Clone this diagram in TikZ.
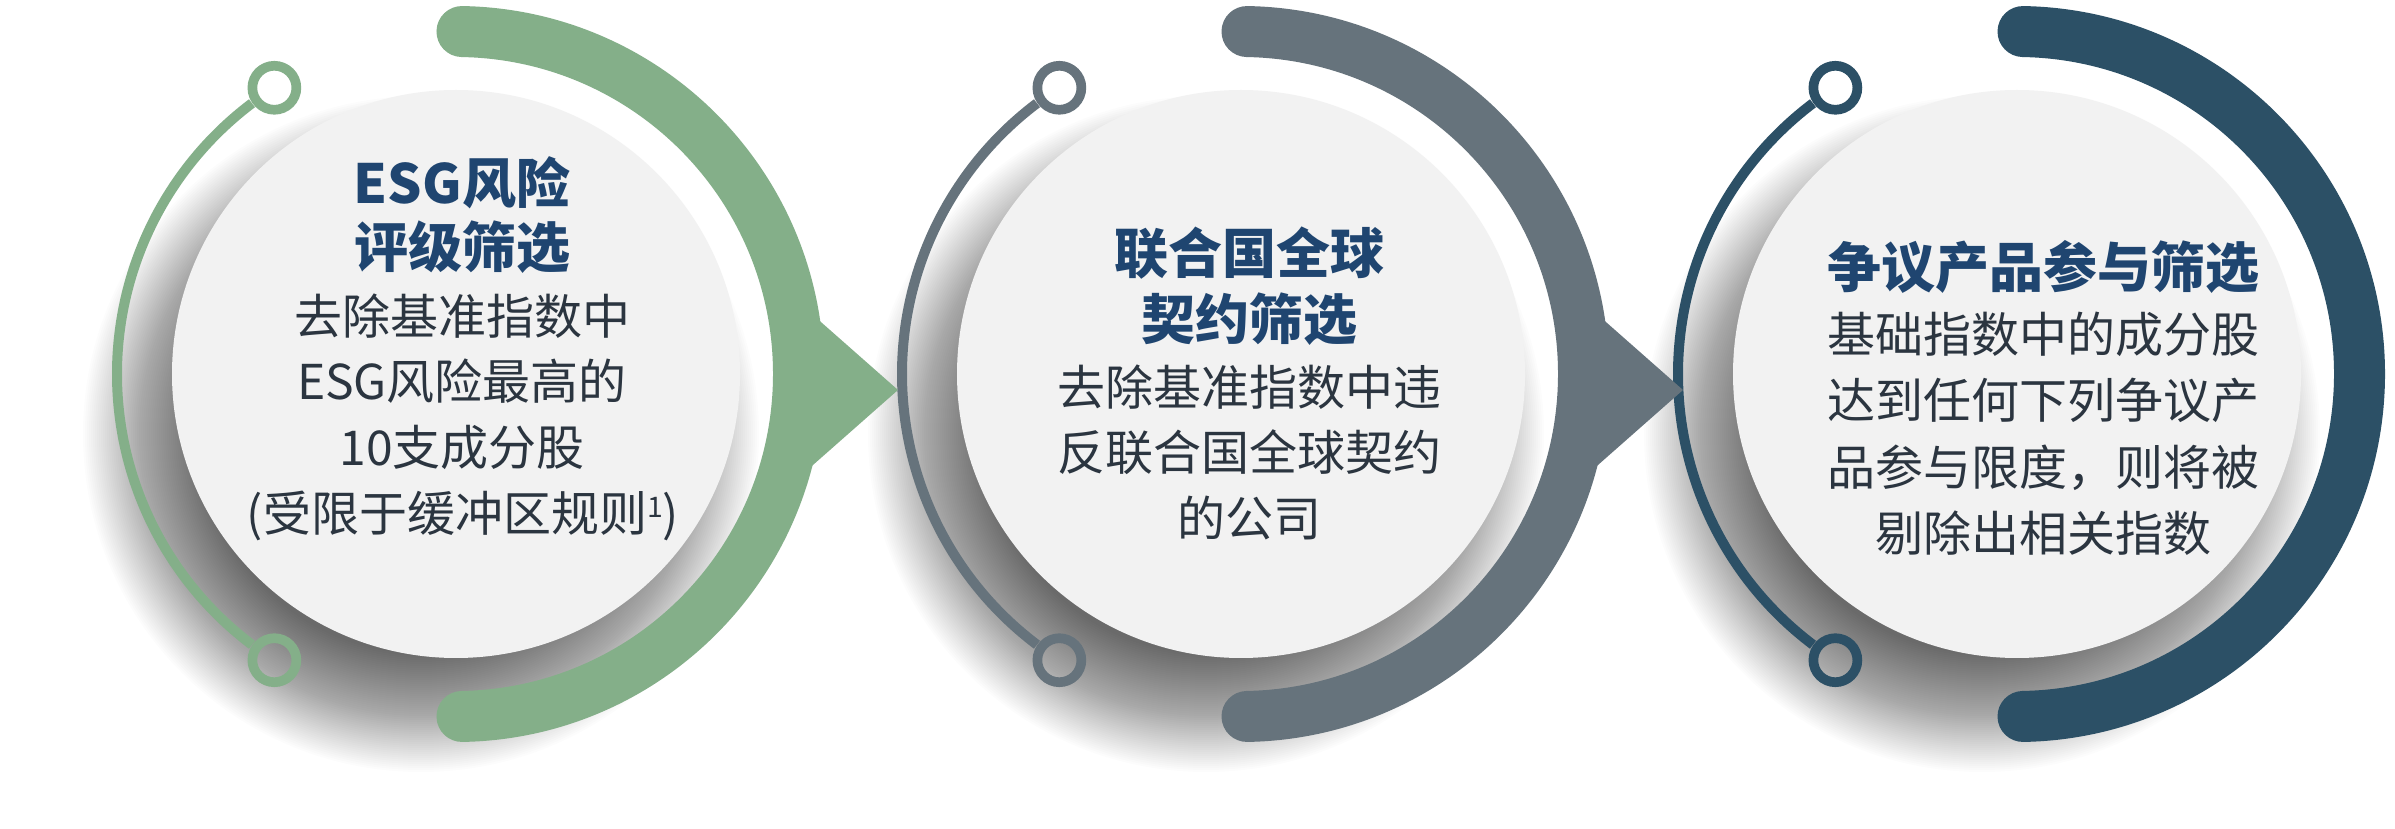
\documentclass[tikz,border=0pt]{standalone}
\usepackage{fontspec}
\newfontfamily\cjk{Noto Sans CJK SC}
\definecolor{cgreen}{HTML}{84AF89}
\definecolor{cslate}{HTML}{66737C}
\definecolor{cnavy}{HTML}{2C5066}
\definecolor{ctitle}{HTML}{1F4570}
\definecolor{cbody}{HTML}{2B3540}
\definecolor{cdisk}{HTML}{F2F2F2}
\tikzset{
  titletext/.style={font=\cjk\bfseries\fontsize{16.2pt}{19pt}\selectfont, text=ctitle, anchor=base, inner sep=0pt},
  bodytext/.style={font=\cjk\fontsize{14.4pt}{19pt}\selectfont, text=cbody, anchor=base, inner sep=0pt},
  thinarc/.style={line width=3pt},
  ringend/.style={line width=2.9pt},
  thickarc/.style={line width=15.3pt, line cap=round},
  diskshape/.style={circle, fill=cdisk, minimum size=170.4pt, inner sep=0pt},
  shadowlayer/.style={fill=black, fill opacity=0.01}
}
\newcommand{\supone}{\raisebox{0.55ex}{\fontsize{8.5pt}{8.5pt}\selectfont 1}}
\begin{document}
\begin{tikzpicture}[x=0.3pt,y=-0.3pt]
\useasboundingbox (0,0) rectangle (2395,829);
\fill[white] (0,0) rectangle (2395,829);
\coordinate (c1) at (456,374);
\coordinate (c2) at (1241,374);
\coordinate (c3) at (2017,374);
% soft shadows
\foreach \cx in {456,1241,2017}{
  \foreach \k in {0,...,59}{
    \fill[shadowlayer] ({\cx-35},434) circle[radius={220+2*\k}];
  }
}
% unit arcs
\foreach \c/\col in {c1/cgreen,c2/cslate,c3/cnavy}{
  \draw[thinarc,\col] (\c) ++(127:339) arc[start angle=127,end angle=233,radius=339];
  \draw[ringend,\col] (\c) ++(122.4:339) circle[radius=22];
  \draw[ringend,\col] (\c) ++(237.6:339) circle[radius=22];
  \draw[thickarc,\col] (\c) ++(-89:342.5) arc[start angle=-89,end angle=89,radius=342.5];
}
% arrows
\fill[cgreen] (c1) ++(442,16) coordinate (tip1) -- ++(-110,-97) -- ++(0,194) -- cycle;
\fill[cslate] (c2) ++(442,16) coordinate (tip2) -- ++(-110,-97) -- ++(0,194) -- cycle;
% disks
\node[diskshape] (disk1) at (c1) {};
\node[diskshape] (disk2) at (c2) {};
\node[diskshape] (disk3) at (c3) {};
% texts unit 1
\node[titletext] (t1a) at (462,204) {ESG风险};
\node[titletext] (t1b) at (462,268) {评级筛选};
\node[bodytext] (b1a) at (462,335) {去除基准指数中};
\node[bodytext] (b1b) at (462,400) {ESG风险最高的};
\node[bodytext] (b1c) at (462,466) {10支成分股};
\node[bodytext] (b1d) at (463,532) {(受限于缓冲区规则\supone)};
% texts unit 2
\node[titletext] (t2a) at (1249,274) {联合国全球};
\node[titletext] (t2b) at (1249,340) {契约筛选};
\node[bodytext] (b2a) at (1249,406) {去除基准指数中违};
\node[bodytext] (b2b) at (1249,471) {反联合国全球契约};
\node[bodytext] (b2c) at (1249,537) {的公司};
% texts unit 3
\node[titletext] (t3a) at (2043,288) {争议产品参与筛选};
\node[bodytext] (b3a) at (2043,353) {基础指数中的成分股};
\node[bodytext] (b3b) at (2043,419) {达到任何下列争议产};
\node[bodytext] (b3c) at (2043,486) {品参与限度，则将被};
\node[bodytext] (b3d) at (2043,552) {剔除出相关指数};
\end{tikzpicture}
\end{document}
